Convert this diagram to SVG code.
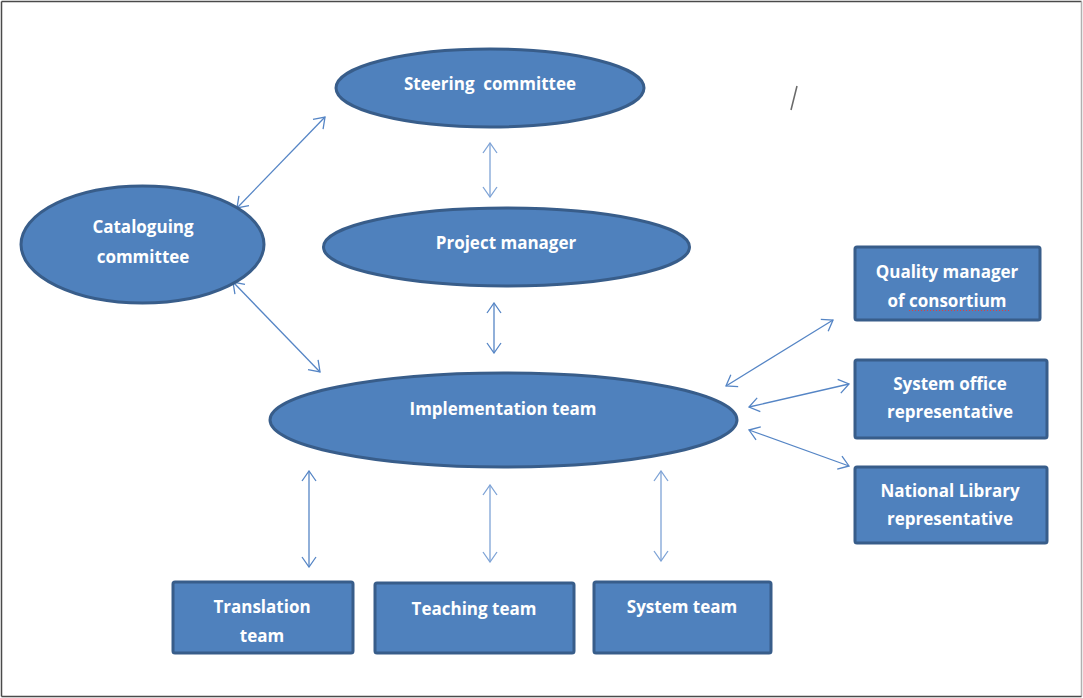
<svg xmlns="http://www.w3.org/2000/svg" width="1083" height="698" viewBox="0 0 1083 698">
  <style>
    .node { fill: #4F81BD; stroke: #385D8A; stroke-width: 3; }
    .label { fill: #FFFFFF; font-family: "Open Sans", Lato, "Liberation Sans", sans-serif; font-weight: bold; font-size: 17px; text-anchor: middle; white-space: pre; }
    .conn { fill: none; stroke: #5585C5; stroke-width: 1.3; marker-start: url(#head); marker-end: url(#head); }
    .conn.light { stroke: #7EA3D6; }
  </style>
  <defs>
    <marker id="head" viewBox="0 0 12 16" refX="11" refY="8" markerWidth="12" markerHeight="16" markerUnits="userSpaceOnUse" orient="auto-start-reverse">
      <path d="M1,1 L11,8 L1,15" fill="none" stroke="context-stroke" stroke-width="1.3"/>
    </marker>
  </defs>

  <!-- page frame -->
  <rect x="0" y="0" width="1083" height="698" fill="#FFFFFF"/>
  <line x1="1.5" y1="1.5" x2="1081.5" y2="1.5" stroke="#4A4A4A" stroke-width="1.5"/>
  <line x1="1.5" y1="1.5" x2="1.5" y2="696.5" stroke="#4A4A4A" stroke-width="1.5"/>
  <line x1="1081.5" y1="1.5" x2="1081.5" y2="696.5" stroke="#B0B0B0" stroke-width="1.5"/>
  <line x1="1.5" y1="696.5" x2="1081.5" y2="696.5" stroke="#4A4A4A" stroke-width="1.5"/>

  <!-- stray stroke -->
  <line x1="797" y1="86" x2="791" y2="110" stroke="#6A6A6A" stroke-width="1.6"/>

  <!-- connectors -->
  <g id="connectors">
    <line class="conn" x1="237" y1="208" x2="325" y2="117"/>
    <line class="conn light" x1="490" y1="143" x2="490" y2="197"/>
    <line class="conn" x1="233" y1="282" x2="320" y2="372"/>
    <line class="conn" x1="494" y1="303" x2="494" y2="353"/>
    <line class="conn" x1="726" y1="386" x2="833" y2="320"/>
    <line class="conn" x1="749" y1="407" x2="849" y2="384"/>
    <line class="conn" x1="749" y1="430" x2="849" y2="466"/>
    <line class="conn" x1="309" y1="471" x2="309" y2="567"/>
    <line class="conn light" x1="490" y1="485" x2="490" y2="562"/>
    <line class="conn light" x1="661" y1="471" x2="661" y2="561"/>
  </g>

  <g id="steering-committee">
    <ellipse class="node" cx="490" cy="88" rx="154" ry="39"/>
    <text class="label" x="490" y="90">Steering  committee</text>
  </g>

  <g id="project-manager">
    <ellipse class="node" cx="506.5" cy="247" rx="183" ry="39"/>
    <text class="label" x="506" y="249">Project manager</text>
  </g>

  <g id="cataloguing-committee">
    <ellipse class="node" cx="142.5" cy="244.5" rx="121.5" ry="58.5"/>
    <text class="label" x="143" y="233">Cataloguing</text>
    <text class="label" x="143" y="263">committee</text>
  </g>

  <g id="implementation-team">
    <ellipse class="node" cx="503.5" cy="420" rx="233.5" ry="47"/>
    <text class="label" x="503" y="415">Implementation team</text>
  </g>

  <g id="quality-manager">
    <rect class="node" x="855" y="247" width="185" height="73" rx="2"/>
    <text class="label" x="947" y="278">Quality manager</text>
    <text class="label" x="947" y="307">of consortium</text>
    <line x1="909" y1="310.5" x2="1010" y2="310.5" stroke="#E04040" stroke-width="1" stroke-dasharray="1 2"/>
  </g>

  <g id="system-office-representative">
    <rect class="node" x="855" y="360" width="192" height="78" rx="2"/>
    <text class="label" x="950" y="390">System office</text>
    <text class="label" x="950" y="418">representative</text>
  </g>

  <g id="national-library-representative">
    <rect class="node" x="855" y="467" width="192" height="76" rx="2"/>
    <text class="label" x="950" y="497">National Library</text>
    <text class="label" x="950" y="525">representative</text>
  </g>

  <g id="translation-team">
    <rect class="node" x="173" y="582" width="180" height="71" rx="2"/>
    <text class="label" x="262" y="613">Translation</text>
    <text class="label" x="262" y="642">team</text>
  </g>

  <g id="teaching-team">
    <rect class="node" x="375" y="583" width="199" height="70" rx="2"/>
    <text class="label" x="474" y="615">Teaching team</text>
  </g>

  <g id="system-team">
    <rect class="node" x="594" y="582" width="177" height="71" rx="2"/>
    <text class="label" x="682" y="613">System team</text>
  </g>
</svg>
